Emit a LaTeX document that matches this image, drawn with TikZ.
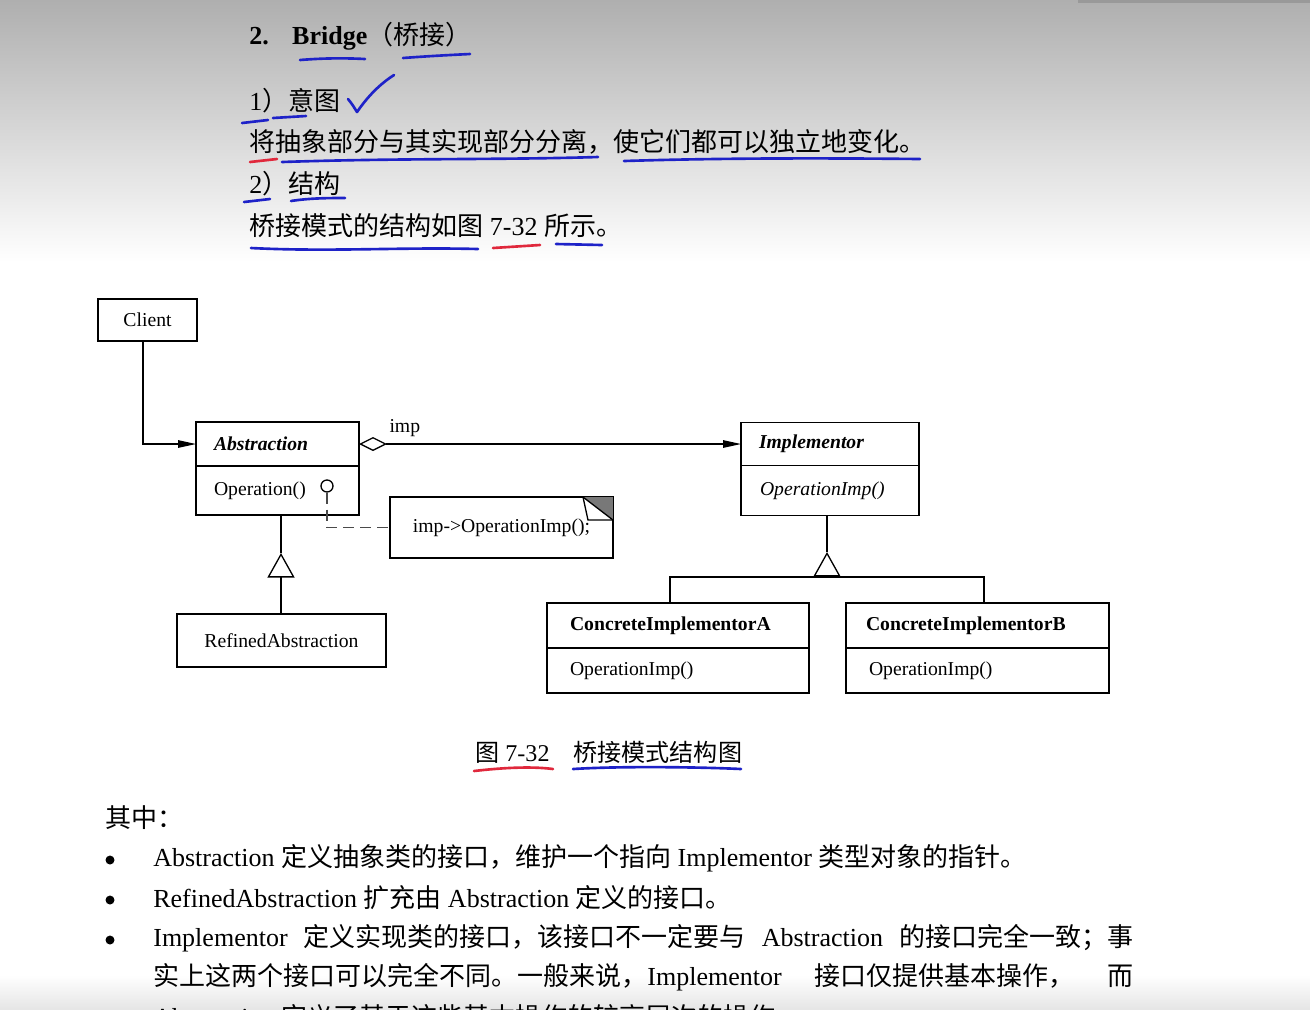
\documentclass[tikz,border=0pt]{standalone}
\usepackage{fontspec}
\setmainfont{Liberation Serif}
\newfontfamily\cjk{Noto Sans CJK SC}
\usepackage{tikz}
\usetikzlibrary{
  arrows.meta,
  shapes,
  positioning,
  calc
}
\definecolor{bgTop}{HTML}{AFAFAF}
\definecolor{penBlue}{HTML}{1E22C8}
\definecolor{penRed}{HTML}{E0283C}
\definecolor{foldGray}{HTML}{787878}
\definecolor{linkGray}{HTML}{4A4A4A}
\newcommand{\zh}[1]{{\cjk #1}}
\newcommand{\bodyfont}{\fontsize{14.8}{18}\selectfont}
\newcommand{\capfont}{\fontsize{13.7}{16}\selectfont}
\newcommand{\diagfont}{\fontsize{11.2}{13}\selectfont}
\tikzset{
  bodytext/.style={anchor=west, inner sep=0pt, font=\bodyfont},
  umlbox/.style={draw, line width=0.75pt, outer sep=0pt, font=\diagfont},
  umlpart/.style={umlbox, inner xsep=0.36cm, align=left},
  assoc/.style={line width=0.75pt},
  navarrow/.style={-{Triangle[length=0.36cm, width=0.15cm]}, line width=0.75pt},
  aggarrow/.style={{Diamond[open, length=0.56cm, width=0.28cm]}-{Triangle[length=0.36cm, width=0.15cm]}, line width=0.75pt},
  genarrow/.style={-{Triangle[open, length=0.49cm, width=0.54cm]}, line width=0.75pt},
  notelink/.style={line width=0.75pt, linkGray, dash pattern=on 0.22cm off 0.12cm},
  bulletdot/.style={circle, fill=black, inner sep=0pt, minimum size=0.18cm},
  tag/.style={font=\diagfont, inner sep=1pt},
  pen/.style={line width=1.5pt, line cap=round, line join=round, penBlue},
  redpen/.style={pen, penRed}
}

\begin{document}
\begin{tikzpicture}[x=0.02cm, y=-0.02cm]
  \useasboundingbox (0,0) rectangle (1310,1009);
  \clip (0,0) rectangle (1310,1009);
  \fill[white] (0,0) rectangle (1310,1009);
  \shade[top color=bgTop, bottom color=white] (0,0) rectangle (1310,262);
  \fill[black!40] (1078,0) rectangle (1310,2.5);
  \shade[top color=white, bottom color=black!10] (0,975) rectangle (1310,1009);

  % heading and intent
  \node[bodytext, font=\bodyfont\bfseries] (title) at (249,36) {2.\hspace{0.9em}Bridge\zh{\mdseries （桥接）}};
  \node[bodytext] (intent) at (249,101) {1\zh{）意图}};
  \node[bodytext] (intenttext) at (249,142) {\zh{将抽象部分与其实现部分分离，使它们都可以独立地变化。}};
  \node[bodytext] (struct) at (249,184) {2\zh{）结构}};
  \node[bodytext] (structtext) at (249,226) {\zh{桥接模式的结构如图} 7-32 \zh{所示。}};

  % class diagram
  \node[umlbox, minimum width=1.98cm, minimum height=0.84cm] (client) at (147.5,320) {Client};
  \node[umlpart, text width=2.54cm, minimum height=0.88cm, font=\diagfont\bfseries\itshape] (abshead) at (277.5,444) {Abstraction};
  \node[umlpart, text width=2.54cm, minimum height=0.98cm, below=0pt of abshead] (absbody) {Operation()};
  \node[circle, draw, line width=0.75pt, inner sep=0pt, minimum size=0.24cm] (opdot) at (327,486) {};
  \node[umlbox, minimum width=4.18cm, minimum height=1.06cm, below=1.98cm of absbody, xshift=0.08cm] (refined) {RefinedAbstraction};
  \node[umlbox, minimum width=4.46cm, minimum height=1.22cm] (note) at (501.5,527.5) {imp->OperationImp();};

  \node[umlpart, text width=2.84cm, minimum height=0.86cm, font=\diagfont\bfseries\itshape] (implhead) at (830,444) {Implementor};
  \node[umlpart, text width=2.80cm, inner xsep=0.38cm, minimum height=1.0cm, below=0pt of implhead, font=\diagfont\itshape] (implbody) {OperationImp()};
  \node[umlpart, text width=4.32cm, inner xsep=0.46cm, minimum height=0.9cm, font=\diagfont\bfseries] (ciahead) at (678,625.5) {ConcreteImplementorA};
  \node[umlpart, text width=4.32cm, inner xsep=0.46cm, minimum height=0.9cm, below=0pt of ciahead] (ciabody) {OperationImp()};
  \node[umlpart, text width=4.46cm, inner xsep=0.40cm, minimum height=0.9cm, font=\diagfont\bfseries] (cibhead) at (977.5,625.5) {ConcreteImplementorB};
  \node[umlpart, text width=4.34cm, inner xsep=0.46cm, minimum height=0.9cm, below=0pt of cibhead] (cibbody) {OperationImp()};

  % note fold
  \fill[foldGray] ([xshift=-0.6cm]note.north east) -- (note.north east) -- ([yshift=-0.46cm]note.north east) -- cycle;
  \draw[assoc] ([xshift=-0.6cm]note.north east) -- ([xshift=-0.5cm, yshift=-0.46cm]note.north east) -- ([yshift=-0.46cm]note.north east);
  \draw[assoc] ([xshift=-0.6cm]note.north east) -- ([yshift=-0.46cm]note.north east);

  \coordinate (absgen) at (281,553);
  \coordinate (implgen) at (827,552);
  \coordinate (implbar) at (827,577);

  \draw[navarrow] ([xshift=-0.09cm]client.south) |- (abshead.west);
  \draw[aggarrow] (abshead.east) -- (implhead.west) node[tag, pos=0.12, above=0.1cm] (implabel) {imp};
  \draw[notelink] (opdot.south) |- (note.west);
  \draw[assoc] (absgen |- absbody.south) -- (absgen);
  \draw[genarrow] (absgen |- refined.north) -- (absgen);
  \draw[assoc] (implgen |- implbody.south) -- (implgen);
  \draw[genarrow] (implbar) -- (implgen);
  \draw[assoc] ([xshift=-0.16cm]ciahead.north) |- (implbar) -| ([xshift=0.13cm]cibhead.north);

  % caption and list
  \node[bodytext, font=\capfont] (caption) at (475,752) {\zh{图} 7-32\quad\zh{桥接模式结构图}};
  \node[bodytext] (among) at (105,818) {\zh{其中：}};
  \foreach \y [count=\i] in {860,900,940}
    \node[bulletdot] (bullet\i) at (110,\y) {};
  \node[bodytext] (item1) at (153,858) {Abstraction \zh{定义抽象类的接口，维护一个指向} Implementor \zh{类型对象的指针。}};
  \node[bodytext] (item2) at (153,898) {RefinedAbstraction \zh{扩充由} Abstraction \zh{定义的接口。}};
  \node[bodytext] (item3) at (153,938) {\makebox[19.6cm][s]{Implementor \zh{定义实现类的接口，该接口不一定要与} Abstraction \zh{的接口完全一致；事}}};
  \node[bodytext] (item3b) at (153,977) {\makebox[19.6cm][s]{\zh{实上这两个接口可以完全不同。一般来说，}Implementor \zh{接口仅提供基本操作，} \zh{而}}};
  \node[bodytext] (item3c) at (153,1017) {Abstraction \zh{定义了基于这些基本操作的较高层次的操作。}};

  % handwritten marks
  \draw[pen] (300,60) .. controls (325,58) and (345,58) .. (365,59);
  \draw[pen] (403,58) .. controls (430,56) and (450,55) .. (470,54);
  \draw[pen] (242,123) -- (268,120);
  \draw[pen] (273,118) -- (306,116);
  \draw[pen] (348,99) .. controls (352,104) .. (357,112) .. controls (368,96) and (380,84) .. (394,75);
  \draw[redpen] (250,162) -- (277,159);
  \draw[pen] (282,162) .. controls (400,158) and (500,160) .. (598,157);
  \draw[pen] (624,161) .. controls (720,158) and (820,158) .. (920,159);
  \draw[pen] (244,202) -- (270,199);
  \draw[pen] (291,201) .. controls (310,198) and (330,198) .. (345,198);
  \draw[pen] (251,248) .. controls (330,252) and (400,247) .. (478,249);
  \draw[redpen] (493,248) -- (540,245);
  \draw[pen] (556,244) -- (602,245);
  \draw[redpen] (474,771) .. controls (500,768) and (530,766) .. (553,769);
  \draw[pen] (573,769) .. controls (620,766) and (700,767) .. (741,769);
\end{tikzpicture}
\end{document}
